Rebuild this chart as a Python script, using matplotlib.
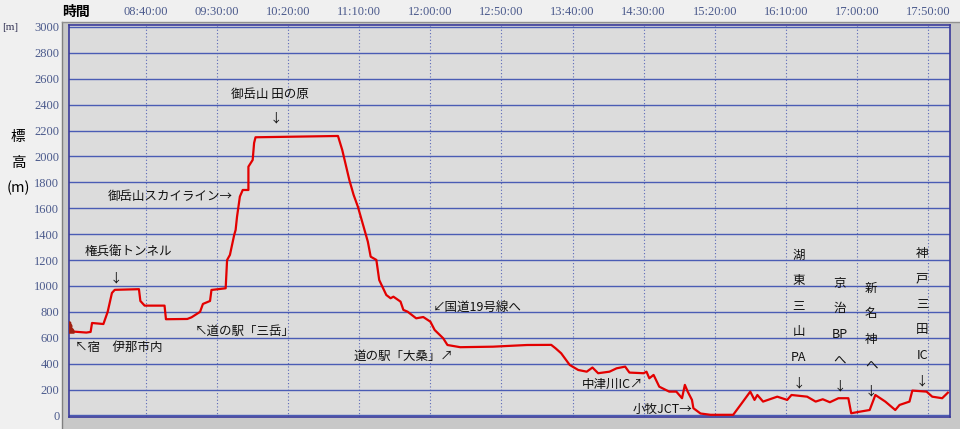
import matplotlib
matplotlib.use("Agg")
import matplotlib.pyplot as plt
from matplotlib.patches import Rectangle
from matplotlib.ticker import FixedLocator, FuncFormatter

plt.rcParams['font.family'] = ['Noto Sans CJK JP', 'DejaVu Sans']

# 時刻 (HH:MM) と標高 [m]
times = ["07:46", "07:58", "08:01", "08:02", "08:10", "08:13", "08:16", "08:18",
         "08:35", "08:36", "08:39", "08:53", "08:54", "09:09", "09:12", "09:18",
         "09:20", "09:25", "09:26", "09:36", "09:37", "09:39", "09:42", "09:43",
         "09:44", "09:46", "09:48", "09:52", "09:52", "09:55", "09:56", "09:57",
         "10:55", "10:58", "11:03", "11:06", "11:09", "11:13", "11:16", "11:18",
         "11:22", "11:24", "11:29", "11:32", "11:34", "11:39", "11:41", "11:44",
         "11:50", "11:55", "12:00", "12:03", "12:09", "12:12", "12:21", "12:44",
         "13:08", "13:25", "13:28", "13:32", "13:38", "13:44", "13:50", "13:54",
         "13:58", "14:06", "14:11", "14:17", "14:20", "14:30", "14:32", "14:34",
         "14:37", "14:41", "14:48", "14:53", "14:57", "14:59", "15:01", "15:04",
         "15:05", "15:10", "15:17", "15:33", "15:39", "15:45", "15:48", "15:50",
         "15:54", "16:04", "16:11", "16:14", "16:25", "16:31", "16:36", "16:41",
         "16:47", "16:54", "16:56", "17:02", "17:09", "17:13", "17:20", "17:27",
         "17:30", "17:37", "17:39", "17:49", "17:53", "18:00", "18:04"]
elev = [650, 640, 645, 714, 706, 800, 946, 970,
        975, 884, 848, 848, 743, 745, 758, 800,
        861, 884, 969, 982, 1200, 1240, 1394, 1432,
        1535, 1690, 1741, 1741, 1921, 1973, 2104, 2148,
        2158, 2050, 1818, 1703, 1612, 1458, 1342, 1226,
        1201, 1046, 930, 905, 917, 879, 815, 801,
        750, 760, 724, 660, 596, 544, 527, 531,
        544, 545, 519, 480, 390, 351, 338, 370,
        326, 338, 364, 377, 331, 326, 338, 287,
        313, 222, 184, 184, 133, 236, 184, 120,
        56, 15, 5, 5, 94, 184, 120, 158,
        107, 145, 120, 158, 145, 107, 125, 102,
        133, 133, 17, 29, 42, 158, 107, 42,
        81, 107, 192, 184, 145, 133, 176]

tick_times = ["08:40", "09:30", "10:20", "11:10", "12:00", "12:50", "13:40",
              "14:30", "15:20", "16:10", "17:00", "17:50"]
y_ticks = list(range(0, 3001, 200))

# 注記: (文字列, 時刻, 標高, 揃え)
labels = [
    ("御岳山 田の原", "09:40", 2475, "left"),
    ("↓", "10:11", 2297, "center"),
    ("御岳山スカイライン→", "08:13", 1687, "left"),
    ("権兵衛トンネル", "07:57", 1257, "left"),
    ("↓", "08:19", 1062, "center"),
    ("↖宿　伊那市内", "07:50", 529, "left"),
    ("↖道の駅「三岳」", "09:14", 647, "left"),
    ("↙国道19号線へ", "12:02", 830, "left"),
    ("道の駅「大桑」↗", "12:16", 454, "right"),
    ("中津川IC↗", "14:30", 236, "right"),
    ("小牧JCT→", "15:04", 50, "right"),
]
# 縦書き注記: (各行, 時刻, 先頭行の標高)
vlabels = [
    (["湖", "東", "三", "山", "PA", "↓"], "16:19", 1239),
    (["京", "治", "BP", "へ", "↓"], "16:48", 1021),
    (["新", "名", "神", "へ", "↓"], "17:10", 982),
    (["神", "戸", "三", "田", "IC", "↓"], "17:46", 1253),
]


def to_min(s):
    h, m = s.split(":")
    return int(h) * 60 + int(m)


W, H = 960, 429
fig = plt.figure(figsize=(W / 100, H / 100), dpi=100, facecolor="#f0f0f0")


def fx(x):
    return x / W


def fy(y):
    return 1 - y / H


# 外枠
fig.patches.append(Rectangle((fx(62), 0), fx(960 - 62), fy(22), transform=fig.transFigure,
                             facecolor="#c8c8c8", edgecolor="none", zorder=-2))
fig.lines.append(plt.Line2D([fx(62), fx(62)], [0, fy(22)], transform=fig.transFigure,
                            color="#808080", lw=1, zorder=-1))
fig.lines.append(plt.Line2D([fx(62), 1], [fy(22), fy(22)], transform=fig.transFigure,
                            color="#909090", lw=1, zorder=-1))

ax = fig.add_axes([fx(69), fy(417), fx(950 - 69), (417 - 25) / H], zorder=2)
ax.set_facecolor("#dcdcdc")

x = [to_min(t) for t in times]
ax.plot(x, elev, color="#e30000", lw=1.6, zorder=3)
ax.plot(x[0], elev[0] + 30, marker="$\u265f$", color="#a02010", ms=8, zorder=4)

ax.set_xlim(465.8, 1085.5)
ax.set_ylim(-12, 3015)

ax.xaxis.set_major_locator(FixedLocator([to_min(t) for t in tick_times]))
ax.xaxis.set_major_formatter(FuncFormatter(lambda v, p: "%02d:%02d:00" % (int(v) // 60, int(v) % 60)))
ax.yaxis.set_major_locator(FixedLocator(y_ticks))
ax.xaxis.tick_top()
ax.tick_params(axis="both", length=0, labelcolor="#4b5a8c", labelsize=9)
ax.tick_params(axis="x", pad=5)
ax.tick_params(axis="y", pad=7)
for lab in ax.get_xticklabels() + ax.get_yticklabels():
    lab.set_family("Liberation Serif")

ax.grid(axis="y", color="#4a5cb4", lw=1, ls="-")
ax.grid(axis="x", color="#5a68b8", lw=0.8, ls=(0, (1, 2)))
ax.set_axisbelow(True)
for sp in ax.spines.values():
    sp.set_color("#3a3a9a")
    sp.set_linewidth(1.2)

for txt, t, e, ha in labels:
    ax.text(to_min(t), e, txt, ha=ha, va="center", fontsize=9, color="#111111", zorder=5)

for lines, t, e in vlabels:
    for i, ch in enumerate(lines):
        ax.annotate(ch, (to_min(t), e), xytext=(0, -18.4 * i), textcoords="offset points",
                    ha="center", va="center", fontsize=9, color="#111111", zorder=5)

# 軸ラベル
fig.text(fx(62), fy(12), "時間", fontsize=10, fontweight="bold", va="center", ha="left")
fig.text(fx(2), fy(27), "[m]", fontsize=8, family="Liberation Serif", color="#333355",
         va="center", ha="left")
for s, yy in [("標", 137), ("高", 163), ("(m)", 188)]:
    fig.text(fx(18), fy(yy), s, fontsize=10.5, ha="center", va="center")

fig.savefig("out.png", dpi=100, facecolor=fig.get_facecolor())
